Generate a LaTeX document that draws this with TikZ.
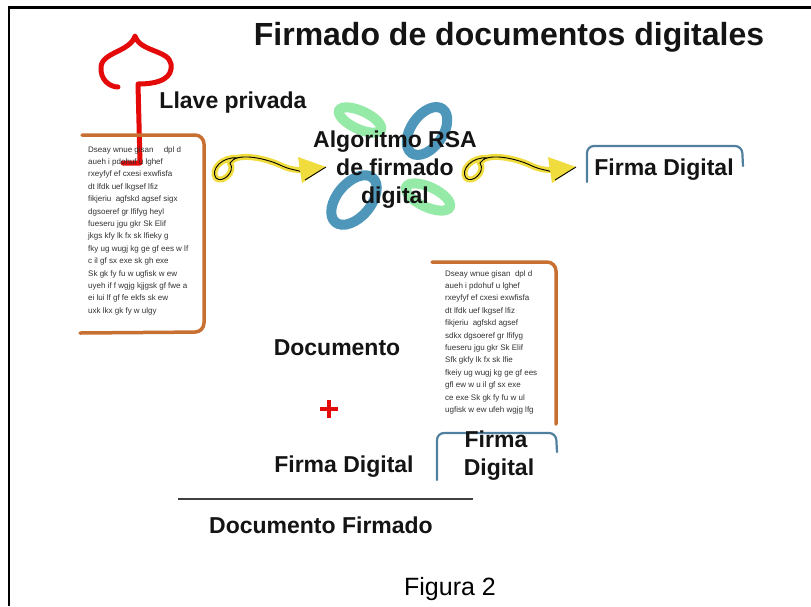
\documentclass[tikz,border=0pt]{standalone}
\usepackage{fontspec}
\setmainfont{Liberation Sans}
\begin{document}
\definecolor{keyred}{RGB}{228,10,10}
\definecolor{pagebrown}{RGB}{200,112,50}
\definecolor{boxblue}{RGB}{80,128,158}
\definecolor{petalgreen}{RGB}{150,234,168}
\definecolor{petalblue}{RGB}{78,150,186}
\definecolor{marker}{RGB}{240,220,60}
\definecolor{inktext}{RGB}{20,20,20}
\definecolor{filler}{RGB}{50,50,50}
\begin{tikzpicture}[x=1pt,y=-1pt,
  label/.style={font=\bfseries\fontsize{23}{28}\selectfont, text=inktext, inner sep=0pt, anchor=base},
  fillertext/.style={font=\fontsize{8}{12.4}\selectfont, text=filler, align=left, inner sep=0pt, anchor=north west},
  pageedge/.style={draw=pagebrown, line width=3.5pt, rounded corners=9pt, line cap=round},
  boxedge/.style={draw=boxblue, line width=2.2pt, rounded corners=7pt, line cap=round},
  petal/.style={line width=10pt},
  squiggle/.pic={
    \draw[marker, line width=6pt, line cap=round]
      (25,-2) .. controls (9,-4) and (-3,10) .. (3,18)
      .. controls (9,24) and (23,12) .. (17,3)
      .. controls (23,-8) and (52,-2) .. (67,5)
      .. controls (77,10) and (85,10) .. (89,10);
    \draw[black, line width=0.9pt]
      (25,-2) .. controls (9,-4) and (-3,10) .. (3,18)
      .. controls (9,24) and (23,12) .. (17,3)
      .. controls (23,-8) and (52,-2) .. (67,5)
      .. controls (77,10) and (85,10) .. (89,12) -- (92,20);
    \fill[marker] (85,-3) -- (113,7) -- (89,23) -- cycle;
    \draw[black, line width=0.9pt, line join=round] (92,20) -- (113,7);
  }]
\useasboundingbox (0,0) rectangle (811,606);
\fill[white] (0,0) rectangle (811,606);

% frame
\draw[black, line width=2.6pt] (9,606) -- (9,7.5) -- (811,7.5);

% title
\node[label, font=\bfseries\fontsize{32}{36}\selectfont] (title) at (509,45) {Firmado de documentos digitales};

% private key
\draw[keyred, line width=5pt, line cap=round, line join=round]
  (123,163) -- (140,163) -- (138,84)
  .. controls (160,84) and (173,78) .. (171,64)
  .. controls (169,50) and (140,52) .. (135,36)
  .. controls (130,52) and (102,52) .. (101,67)
  .. controls (100,80) and (110,87) .. (118,87);
\node[label] (keylabel) at (233,108) {Llave privada};

% first document
\node[fillertext] (doctext1) at (88,146) {%
Dseay wnue gisan \quad dpl d\\
aueh i pdohuf u lghef\\
rxeyfyf ef cxesi exwfisfa\\
dt lfdk uef lkgsef lfiz\\
fikjeriu \ agfskd agsef sigx\\
dgsoeref gr lfifyg heyl\\
fueseru jgu gkr Sk Elif\\
jkgs kfy lk fx sk lfieky g\\
fky ug wugj kg ge gf ees w lf\\
c il gf sx exe sk gh exe\\
Sk gk fy fu w ugfisk w ew\\
uyeh if f wgjg kjjgsk gf fwe a\\
ei lui lf gf fe ekfs sk ew\\
uxk lkx gk fy w ulgy};
\draw[pageedge] (82,135) -- (204,135) -- (204,332) -- (80,333);

% arrows
\pic (arrowa) at (213,160) {squiggle};
\pic (arrowb) at (463,160) {squiggle};

% RSA flower
\begin{scope}[shift={(427,131)}, rotate=55]
  \draw[petalblue, petal] (0,0) ellipse [x radius=27, y radius=16];
\end{scope}
\begin{scope}[shift={(354,200)}, rotate=50]
  \draw[petalblue, petal] (0,0) ellipse [x radius=29, y radius=17];
\end{scope}
\begin{scope}[shift={(360,120)}, rotate=-25]
  \draw[petalgreen, petal] (0,0) ellipse [x radius=23, y radius=9];
\end{scope}
\begin{scope}[shift={(428,197)}, rotate=-25]
  \draw[petalgreen, petal] (0,0) ellipse [x radius=24, y radius=10];
\end{scope}
\node[label] (rsa1) at (395,147) {Algoritmo RSA};
\node[label] (rsa2) at (395,175) {de firmado};
\node[label] (rsa3) at (395,203) {digital};

% signature box
\draw[boxedge] (587,182) -- (587,146) -- (742,146) -- (743,166);
\node[label] (sig) at (664,175) {Firma Digital};

% second document
\node[fillertext] (doctext2) at (445,270) {%
Dseay wnue gisan \ dpl d\\
aueh i pdohuf u lghef\\
rxeyfyf ef cxesi exwfisfa\\
dt lfdk uef lkgsef lfiz\\
fikjeriu \ agfskd agsef\\
sdkx dgsoeref gr lfifyg\\
fueseru jgu gkr Sk Elif\\
Sfk gkfy lk fx sk lfie\\
fkeiy ug wugj kg ge gf ees\\
gfl ew w u il gf sx exe\\
ce exe Sk gk fy fu w ul\\
ugfisk w ew ufeh wgjg lfg};
\draw[pageedge] (432,262) -- (556,262) -- (556,424);

% signature box under the document
\draw[boxedge] (437,480) -- (437,433) -- (556,433) -- (557,452);
\node[label] (sigb1) at (496,447) {Firma};
\node[label] (sigb2) at (499,475) {Digital};

% sum
\node[label] (doc) at (337,355) {Documento};
\draw[keyred, line width=3.5pt] (320,409) -- (338,409) (329,400) -- (329,418);
\node[label] (firma) at (344,472) {Firma Digital};
\draw[black!75, line width=2pt] (178,499) -- (473,499);
\node[label] (signed) at (321,533) {Documento Firmado};

\node[font=\fontsize{25}{30}\selectfont, inner sep=0pt, anchor=base] (caption) at (450,595) {Figura 2};
\end{tikzpicture}
\end{document}
